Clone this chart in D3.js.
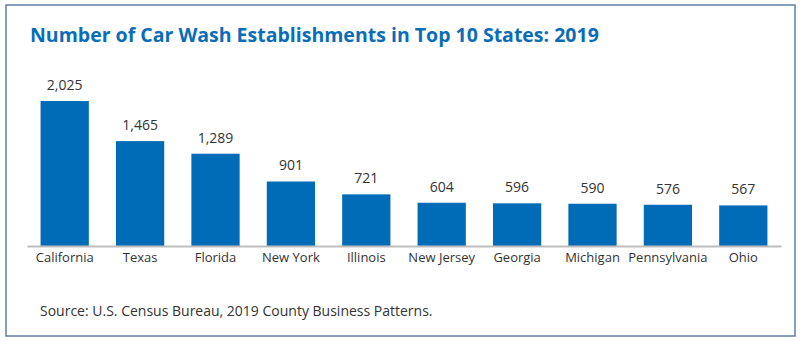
<!DOCTYPE html>
<html>
<head>
<meta charset="utf-8">
<script src="https://cdn.jsdelivr.net/npm/d3@7"></script>
<style>
  body { margin: 0; background: #fff; }
  text { font-family: "Open Sans", sans-serif; }
</style>
</head>
<body>
<script>
// data
const states = ["California", "Texas", "Florida", "New York", "Illinois", "New Jersey", "Georgia", "Michigan", "Pennsylvania", "Ohio"];
const counts = [2025, 1465, 1289, 901, 721, 604, 596, 590, 576, 567];

const W = 800, H = 341;
const svg = d3.select("body").append("svg").attr("width", W).attr("height", H);

// frame
svg.append("rect")
  .attr("x", 6).attr("y", 5).attr("width", 789).attr("height", 331)
  .attr("fill", "none").attr("stroke", "#5f7fa5").attr("stroke-width", 1.5);

svg.append("text")
  .attr("x", 30).attr("y", 42)
  .attr("fill", "#0b6db7").attr("font-size", 19.5).attr("font-weight", "bold")
  .text("Number of Car Wash Establishments in Top 10 States: 2019");

let x = d3.scaleBand().domain(states).range([27, 781]).paddingInner(0.36).paddingOuter(0.18);
let y = d3.scaleLinear().domain([0, 2025]).range([246, 101]);

let g = svg.append("g");
g.selectAll("rect.bar").data(states).enter().append("rect")
  .attr("class", "bar")
  .attr("x", d => x(d)).attr("width", x.bandwidth())
  .attr("y", (d, i) => y(counts[i])).attr("height", (d, i) => y(0) - y(counts[i]))
  .attr("fill", "#006cb7");

g.selectAll("text.val").data(states).enter().append("text")
  .attr("class", "val")
  .attr("x", d => x(d) + x.bandwidth() / 2)
  .attr("y", (d, i) => y(counts[i]) - 11)
  .attr("text-anchor", "middle").attr("font-size", 14).attr("fill", "#333")
  .text((d, i) => d3.format(",")(counts[i]));

// baseline + category labels
let axis = svg.append("g").attr("transform", "translate(0,246)")
  .call(d3.axisBottom(x).tickSize(0).tickPadding(7));
axis.select(".domain").attr("stroke", "#bdbdbd").attr("stroke-width", 2);
axis.selectAll("text").attr("font-size", 13).attr("fill", "#333")
  .attr("font-family", "Open Sans, sans-serif");

svg.append("text")
  .attr("x", 40).attr("y", 316)
  .attr("font-size", 14).attr("fill", "#333")
  .text("Source: U.S. Census Bureau, 2019 County Business Patterns.");
</script>
</body>
</html>
